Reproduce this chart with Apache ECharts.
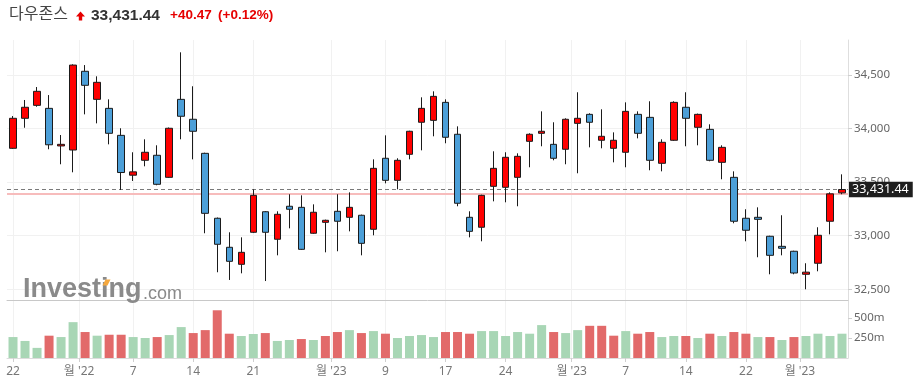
<!DOCTYPE html>
<html><head><meta charset="utf-8">
<script src="https://cdn.jsdelivr.net/npm/echarts@6/dist/echarts.min.js"></script>
<style>html,body{margin:0;padding:0;background:#fff}#c{width:916px;height:387px}</style>
</head><body><div id="c"></div>
<script>
const instrument = '다우존스';
const dates = ['2022-11-22','2022-11-23','2022-11-25','2022-11-28','2022-11-29','2022-11-30','2022-12-01','2022-12-02','2022-12-05','2022-12-06',
'2022-12-07','2022-12-08','2022-12-09','2022-12-12','2022-12-13','2022-12-14','2022-12-15','2022-12-16','2022-12-19','2022-12-20',
'2022-12-21','2022-12-22','2022-12-23','2022-12-27','2022-12-28','2022-12-29','2022-12-30','2023-01-03','2023-01-04','2023-01-05',
'2023-01-06','2023-01-09','2023-01-10','2023-01-11','2023-01-12','2023-01-13','2023-01-17','2023-01-18','2023-01-19','2023-01-20',
'2023-01-23','2023-01-24','2023-01-25','2023-01-26','2023-01-27','2023-01-30','2023-01-31','2023-02-01','2023-02-02','2023-02-03',
'2023-02-06','2023-02-07','2023-02-08','2023-02-09','2023-02-10','2023-02-13','2023-02-14','2023-02-15','2023-02-16','2023-02-17',
'2023-02-21','2023-02-22','2023-02-23','2023-02-24','2023-02-27','2023-02-28','2023-03-01','2023-03-02','2023-03-03','2023-03-06'];
const opens = [33816,34096,34217,34189,33838,33800,34535,34273,34189,33937,
33565,33704,33751,33545,34273,34087,33769,33163,32892,32733,
33032,33224,32967,33275,33265,33023,33125,33228,33172,33191,
33060,33723,33517,33760,34059,34077,34245,33947,33172,33079,
33461,33452,33545,33881,33956,33853,33807,34049,34133,33891,
33816,33779,34133,34105,33676,33891,34199,34012,33993,33685,
33545,33163,33172,32995,32901,32855,32640,32743,33135,33400];
const closes = [34096,34199,34348,33849,33853,34593,34404,34432,33956,33590,
33596,33779,33480,34003,34115,33975,33209,32920,32761,32845,
33377,33032,33200,33247,32873,33219,33144,33135,33265,32929,
33629,33517,33704,33975,34189,34301,33919,33303,33041,33377,
33629,33732,33741,33947,33975,33723,34087,34096,34059,33928,
33891,34161,33956,33704,33872,34245,34096,34133,33704,33825,
33135,33051,33153,32817,32883,32652,32660,33004,33390.97,33431.44];
const highs = [34117,34267,34388,34313,33940,34600,34593,34488,34273,34003,
33779,33900,33844,34010,34712,34395,33775,33170,33032,32985,
33433,33230,33228,33387,33377,33293,33150,33387,33405,33197,
33713,33937,33723,33980,34292,34348,34273,34021,33228,33383,
33788,33779,33769,33956,34161,34059,34096,34339,34143,34180,
33965,34245,34161,34255,33900,34255,34339,34140,34040,33844,
33601,33247,33265,33000,33191,32860,32743,33079,33405,33573];
const lows = [33810,34008,34204,33807,33667,33592,34133,34049,33853,33427,
33511,33648,33471,33540,33900,33713,33023,32659,32587,32649,
33025,32577,32817,33069,32868,33018,32845,32855,33041,32817,
33004,33489,33433,33713,33797,33928,33863,33275,32985,32948,
33321,33312,33275,33639,33835,33704,33667,33583,33825,33816,
33685,33639,33909,33611,33601,33885,33835,33844,33695,33527,
33116,32948,32799,32640,32817,32640,32500,32668,33013,33387];
// volume, millions
const volumes = [263,214,127,280,263,450,326,280,292,292,
263,251,263,288,388,313,350,599,305,276,
301,313,214,226,238,226,276,326,350,313,
338,305,251,276,288,263,326,326,305,338,
338,276,326,305,413,326,313,350,404,404,
280,338,305,326,263,276,276,251,305,276,
326,305,263,263,226,263,276,305,276,305];
const dayTickIdx = [0,10,15,20,31,36,41,51,56,61];
const dayTickText = ['22','7','14','21','9','17','24','7','14','22'];
const monthTickIdx = [6,27,47,66]; // month starts: label sits on the boundary before this candle
const monthTickText = ["월 '22","월 '23","월 '23","월 '23"];
const prevClose = 33390.97;

const lastClose = closes[closes.length - 1];
const change = lastClose - prevClose;
const pct = change / prevClose * 100;
const fmt2 = v => v.toLocaleString('en-US', {minimumFractionDigits: 2, maximumFractionDigits: 2});

const candleData = opens.map((o, i) => [o, closes[i], lows[i], highs[i]]);
const volData = volumes.map((v, i) => {
  const ref = i === 0 ? opens[0] : closes[i - 1];
  const up = closes[i] >= ref;
  return {value: v, itemStyle: {color: up ? '#a8d6b5' : '#e26a6a'}};
});
// half-step category list for labels on candle centres and on boundaries
const halfCats = new Array(dates.length * 2 + 1).fill('');
dayTickIdx.forEach((d, j) => { halfCats[2 * d + 1] = dayTickText[j]; });
monthTickIdx.forEach((d, j) => { halfCats[2 * d] = monthTickText[j]; });
const showLbl = (idx, val) => val !== '';

const FONT = "'Noto Sans', 'Noto Sans CJK KR', sans-serif";
const GRID_LINE = '#f1f1f1';
const chart = echarts.init(document.getElementById('c'), null, {renderer: 'canvas'});
chart.setOption({
  animation: false,
  backgroundColor: '#fff',
  grid: [
    {left: 7, right: 68, top: 40, height: 260},
    {left: 7, right: 68, top: 300, height: 58}
  ],
  xAxis: [
    {gridIndex: 0, type: 'category', position: 'bottom', data: dates, boundaryGap: true,
     axisLine: {show: true, onZero: false, lineStyle: {color: '#c8c8c8', width: 1}},
     axisTick: {show: false}, axisLabel: {show: false}, splitLine: {show: false}},
    {gridIndex: 0, type: 'category', position: 'top', data: halfCats, boundaryGap: false,
     axisLine: {show: false, onZero: false}, axisTick: {show: false}, axisLabel: {show: false},
     splitLine: {show: true, interval: showLbl, lineStyle: {color: GRID_LINE, width: 1}}},
    {gridIndex: 1, type: 'category', position: 'top', data: dates, boundaryGap: true,
     axisLine: {show: false, onZero: false},
     axisTick: {show: false}, axisLabel: {show: false}, splitLine: {show: false}},
    {gridIndex: 1, type: 'category', position: 'bottom', data: halfCats, boundaryGap: false,
     axisLine: {show: true, onZero: false, lineStyle: {color: '#dcdcdc', width: 1}},
     axisTick: {show: true, interval: showLbl, length: 4, lineStyle: {color: '#cfcfcf'}},
     axisLabel: {show: true, interval: showLbl, margin: 8, color: '#777', fontSize: 12, fontFamily: FONT},
     splitLine: {show: true, interval: showLbl, lineStyle: {color: GRID_LINE, width: 1}}}
  ],
  yAxis: [
    {gridIndex: 0, type: 'value', position: 'right', min: 32400, max: 34827, splitNumber: 5, scale: true,
     axisLine: {show: true, lineStyle: {color: '#dedede'}},
     axisTick: {show: true, length: 4, lineStyle: {color: '#cfcfcf'}},
     axisLabel: {show: true, margin: 6, color: '#666', fontSize: 11.5, fontFamily: FONT,
       showMinLabel: false, showMaxLabel: false,
       formatter: v => v.toLocaleString('en-US')},
     splitLine: {show: true, showMinLine: false, showMaxLine: false, lineStyle: {color: GRID_LINE, width: 1}}},
    {gridIndex: 1, type: 'value', position: 'right', min: 0, max: 728, interval: 250,
     axisLine: {show: true, lineStyle: {color: '#dedede'}},
     axisTick: {show: true, length: 4, lineStyle: {color: '#cfcfcf'}},
     axisLabel: {show: true, margin: 6, color: '#666', fontSize: 11.5, fontFamily: FONT,
       showMinLabel: false, showMaxLabel: false, formatter: v => v + 'm'},
     splitLine: {show: false}}
  ],
  series: [
    {type: 'candlestick', xAxisIndex: 0, yAxisIndex: 0, data: candleData, barWidth: 7, z: 3,
     itemStyle: {color: '#ff0000', color0: '#4c9fd8', borderColor: '#1b1b1b', borderColor0: '#1b1b1b', borderWidth: 1},
     markLine: {
       silent: true, symbol: ['none', 'none'], animation: false, z: 2,
       data: [
         {yAxis: prevClose, lineStyle: {color: '#f7bcbc', width: 2, type: 'solid'}, label: {show: false}},
         {yAxis: lastClose, lineStyle: {color: '#7a7a7a', width: 1, type: [4, 3]},
          label: {show: true, position: 'end', distance: 1, formatter: fmt2(lastClose),
            backgroundColor: '#1e1e1e', color: '#fff', fontSize: 12.5, fontFamily: FONT,
            padding: [2, 4, 1, 3]}}
       ]
     }},
    {type: 'bar', xAxisIndex: 2, yAxisIndex: 1, data: volData, barWidth: 9}
  ],
  graphic: [
    {type: 'text', left: 9, top: 5, style: {text: instrument, fill: '#444', font: "normal 16px 'Noto Sans CJK KR'"}},
    {type: 'polygon', shape: {points: [[80.5, 11.5], [85, 16.5], [82.2, 16.5], [82.2, 20.5], [78.8, 20.5], [78.8, 16.5], [76, 16.5]]}, style: {fill: '#e60000'}},
    {type: 'text', x: 91, y: 15.5, style: {text: fmt2(lastClose), fill: '#333', font: "bold 15.5px 'Liberation Sans'", verticalAlign: 'middle'}},
    {type: 'text', x: 170, y: 15.5, style: {text: (change >= 0 ? '+' : '') + fmt2(change), fill: '#e60000', font: "bold 13.5px 'Liberation Sans'", verticalAlign: 'middle'}},
    {type: 'text', x: 218, y: 15.5, style: {text: '(' + (pct >= 0 ? '+' : '') + pct.toFixed(2) + '%)', fill: '#e60000', font: "bold 13.5px 'Liberation Sans'", verticalAlign: 'middle'}},
    {type: 'text', x: 23, y: 290, z: 1, style: {text: 'Investing', fill: '#8a8a8a', font: "bold 27px 'Liberation Sans'", verticalAlign: 'middle'}},
    {type: 'text', x: 143, y: 294, z: 1, style: {text: '.com', fill: '#8a8a8a', font: "normal 18px 'Liberation Sans'", verticalAlign: 'middle'}},
    {type: 'polygon', z: 2, shape: {points: [[102.5, 285.5], [105.5, 279.5], [110.5, 279.5], [107.5, 285.5]]}, style: {fill: '#f5a83e'}}
  ]
});
</script></body></html>
